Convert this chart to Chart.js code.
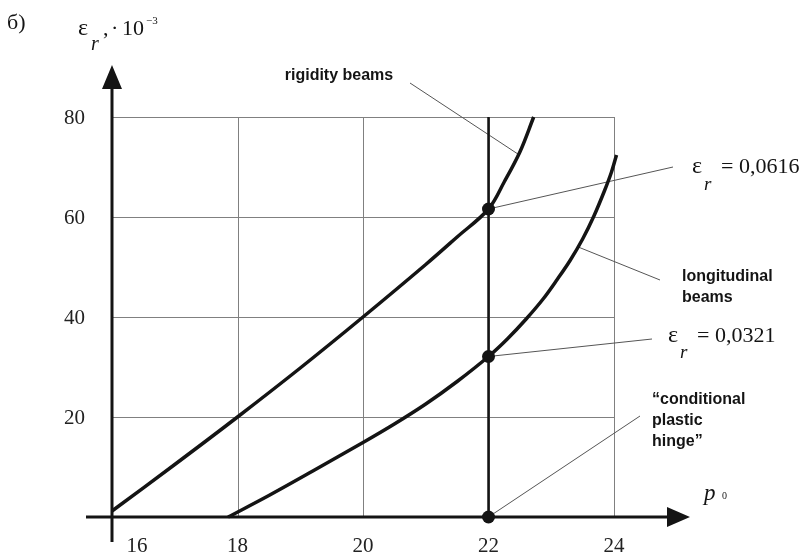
<!DOCTYPE html>
<html>
<head>
<meta charset="utf-8">
<script src="https://cdn.jsdelivr.net/npm/chart.js@4/dist/chart.umd.min.js"></script>
<style>
  html, body { margin: 0; background: #fff; }
  canvas { display: block; }
</style>
</head>
<body>
<canvas id="c" width="802" height="555"></canvas>
<script>
// ---------- Data ----------
const rigidityP = [16, 17, 18, 19, 20, 21, 21.5, 22, 22.25, 22.5, 22.72];
const rigidityE = [1.2, 10.5, 20, 29.8, 40, 50.5, 56, 61.6, 67, 73, 80];

const longP = [17.85, 18.5, 19.2, 20, 20.5, 21, 21.5, 22, 22.3, 22.6, 22.87, 23.1, 23.3, 23.5, 23.68, 23.85, 23.96, 24.04];
const longE = [0, 4.3, 9.2, 14.9, 18.6, 22.6, 27.1, 32.1, 35.6, 39.6, 43.6, 47.6, 51.3, 55.6, 60.2, 65.3, 69, 72.4];

const markerP = [22, 22, 22];
const markerE = [61.6, 32.1, 0];

const hingeP = [22, 22];
const hingeE = [0, 80];

const xTicks = [16, 18, 20, 22, 24];
const yTicks = [20, 40, 60, 80];

// leader lines: data point -> text end (px)
const leaders = [
  { p: 22.48, e: 72.5, tx: 410, ty: 83 },
  { p: 22,    e: 61.6, tx: 673, ty: 167 },
  { p: 23.43, e: 54,   tx: 660, ty: 280 },
  { p: 22,    e: 32.1, tx: 652, ty: 339 },
  { p: 22,    e: 0,    tx: 640, ty: 416 },
];

const pts = (xs, ys) => xs.map((v, i) => ({ x: v, y: ys[i] }));

const INK = '#141414';
const SERIF = '"Liberation Serif", "Times New Roman", serif';
const SANS = '"Liberation Sans", Arial, sans-serif';

function txt(ctx, s, px, py, font, align = 'left') {
  ctx.font = font;
  ctx.textAlign = align;
  ctx.textBaseline = 'alphabetic';
  ctx.fillText(s, px, py);
}

// ---------- Custom drawing: grid, axes, labels ----------
const figure = {
  id: 'figure',
  beforeDatasetsDraw(chart) {
    const { ctx, chartArea: a, scales: { x, y } } = chart;
    const X = v => x.getPixelForValue(v);
    const Y = v => y.getPixelForValue(v);
    const x0 = xTicks[0], x1 = xTicks[xTicks.length - 1];
    const y1 = yTicks[yTicks.length - 1];
    ctx.save();

    // grid box
    ctx.strokeStyle = '#808080';
    ctx.lineWidth = 1;
    ctx.beginPath();
    for (const t of xTicks.slice(1)) {
      const px = Math.round(X(t)) + 0.5;
      ctx.moveTo(px, Y(0)); ctx.lineTo(px, Y(y1));
    }
    for (const t of yTicks) {
      const py = Math.round(Y(t)) + 0.5;
      ctx.moveTo(X(x0), py); ctx.lineTo(X(x1), py);
    }
    ctx.stroke();

    // leader lines
    ctx.strokeStyle = '#555';
    ctx.lineWidth = 1;
    ctx.beginPath();
    for (const l of leaders) {
      ctx.moveTo(X(l.p), Y(l.e));
      ctx.lineTo(l.tx, l.ty);
    }
    ctx.stroke();

    // axes with arrows
    ctx.strokeStyle = INK;
    ctx.fillStyle = INK;
    ctx.lineWidth = 3;
    const ax = X(x0), ay = Y(0);
    ctx.beginPath();
    ctx.moveTo(a.left, ay); ctx.lineTo(a.right - 10, ay);
    ctx.moveTo(ax, a.bottom); ctx.lineTo(ax, a.top + 10);
    ctx.stroke();
    ctx.beginPath();
    ctx.moveTo(a.right, ay); ctx.lineTo(a.right - 23, ay - 10); ctx.lineTo(a.right - 23, ay + 10); ctx.closePath();
    ctx.moveTo(ax, a.top); ctx.lineTo(ax - 10, a.top + 24); ctx.lineTo(ax + 10, a.top + 24); ctx.closePath();
    ctx.fill();

    // tick labels
    ctx.fillStyle = '#222';
    xTicks.forEach(t => {
      const shift = t === x0 ? 25 : 0;
      txt(ctx, String(t), X(t) + shift, 552, '21px ' + SERIF, 'center');
    });
    yTicks.forEach(t => {
      ctx.font = '21px ' + SERIF;
      ctx.textAlign = 'right';
      ctx.textBaseline = 'middle';
      ctx.fillText(String(t), 85, Y(t) + 1);
    });

    // titles and notes
    ctx.fillStyle = INK;
    txt(ctx, 'б)', 7, 29, '22px ' + SERIF);

    txt(ctx, 'ε', 78, 35, '24px ' + SERIF);
    txt(ctx, 'r', 91, 50, 'italic 20px ' + SERIF);
    txt(ctx, ',', 103, 35, '22px ' + SERIF);
    txt(ctx, '·', 111, 35, '22px ' + SERIF);
    txt(ctx, '10', 122, 35, '22px ' + SERIF);
    txt(ctx, '−3', 146, 24, '11px ' + SERIF);

    txt(ctx, 'p', 704, 500, 'italic 23px ' + SERIF);
    txt(ctx, '0', 722, 499, '10px ' + SERIF);

    txt(ctx, 'ε', 692, 173, '24px ' + SERIF);
    txt(ctx, 'r', 704, 190, 'italic 19px ' + SERIF);
    txt(ctx, '= 0,0616', 721, 173, '22px ' + SERIF);

    txt(ctx, 'ε', 668, 342, '24px ' + SERIF);
    txt(ctx, 'r', 680, 358, 'italic 19px ' + SERIF);
    txt(ctx, '= 0,0321', 697, 342, '22px ' + SERIF);

    txt(ctx, 'rigidity beams', 339, 80, 'bold 16px ' + SANS, 'center');
    txt(ctx, 'longitudinal', 682, 281, 'bold 16px ' + SANS);
    txt(ctx, 'beams', 682, 302, 'bold 16px ' + SANS);
    txt(ctx, '\u201Cconditional', 652, 404, 'bold 16px ' + SANS);
    txt(ctx, 'plastic', 652, 425, 'bold 16px ' + SANS);
    txt(ctx, 'hinge\u201D', 652, 446, 'bold 16px ' + SANS);

    ctx.restore();
  }
};

// ---------- Chart ----------
new Chart(document.getElementById('c'), {
  type: 'line',
  data: {
    datasets: [
      { data: pts(rigidityP, rigidityE), borderColor: INK, borderWidth: 3.5, pointRadius: 0, tension: 0.35 },
      { data: pts(longP, longE), borderColor: INK, borderWidth: 3.5, pointRadius: 0, tension: 0.35 },
      { data: pts(hingeP, hingeE), borderColor: INK, borderWidth: 2.5, pointRadius: 0 },
      { data: pts(markerP, markerE), showLine: false, pointRadius: 6.5, pointBackgroundColor: INK, pointBorderWidth: 0 },
    ]
  },
  options: {
    responsive: false,
    animation: false,
    events: [],
    layout: { padding: { left: 86, top: 65, right: 112, bottom: 13 } },
    plugins: { legend: { display: false }, tooltip: { enabled: false } },
    scales: {
      x: { type: 'linear', min: 15.5857, max: 25.211, display: false },
      y: { type: 'linear', min: -5, max: 90.4, display: false }
    }
  },
  plugins: [figure]
});
</script>
</body>
</html>
